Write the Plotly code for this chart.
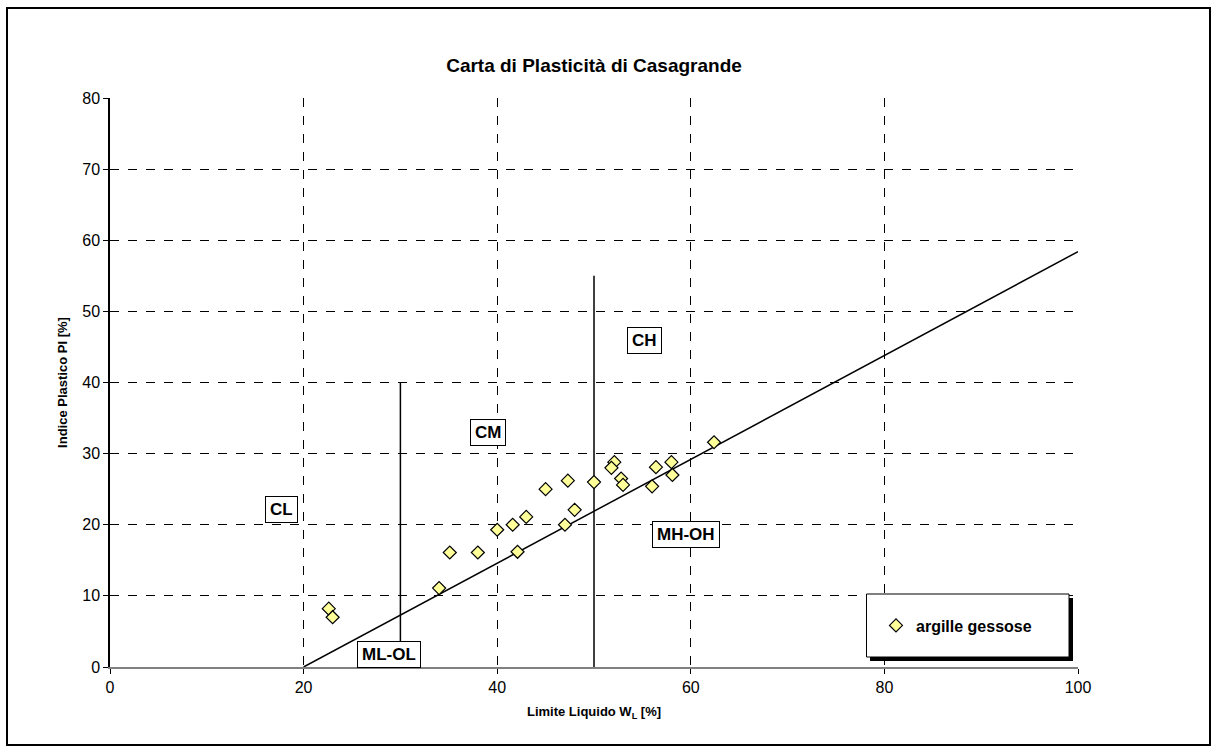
import plotly.graph_objects as go

# Campioni: limite liquido (LL) e indice plastico (PI), in %
ll_values = [22.6, 23.0, 34.0, 35.1, 38.0, 40.0, 41.6, 42.1, 43.0, 45.0, 47.3,
             47.0, 48.0, 50.0, 52.1, 51.8, 52.8, 53.0, 56.4, 56.0, 58.0, 58.1, 62.4]
pi_values = [8.2, 7.0, 11.1, 16.1, 16.1, 19.3, 20.0, 16.2, 21.1, 25.0, 26.2,
             20.0, 22.1, 26.0, 28.8, 28.0, 26.5, 25.6, 28.1, 25.4, 28.8, 27.0, 31.6]
series_name = "argille gessose"

# Linea A di Casagrande: PI = 0.73 (LL - 20)
aline_ll = [20, 100]
aline_pi = [0.73 * (v - 20) for v in aline_ll]

# Limiti verticali LL = 30 e LL = 50
div30_ll = [30, 30]
div30_pi = [0, 40]
div50_ll = [50, 50]
div50_pi = [0, 55]

# Etichette delle zone
zone_names = ["CL", "CM", "CH", "MH-OH", "ML-OL"]
zone_ll = [17.7, 39.0, 55.2, 59.5, 28.8]
zone_pi = [22.1, 33.0, 45.9, 18.7, 1.8]

x_ticks = [0, 20, 40, 60, 80, 100]
y_ticks = [0, 10, 20, 30, 40, 50, 60, 70, 80]

W, H = 1211, 751
ML, MR, MT, MB = 110, 133, 98, 84
PW, PH = W - ML - MR, H - MT - MB


def px(x):
    return (x - ML) / PW


def py(y):
    return (H - MB - y) / PH


FONT = "Arial, Liberation Sans, sans-serif"

fig = go.Figure()

line_style = dict(color="black", width=1.5)
fig.add_trace(go.Scatter(x=aline_ll, y=aline_pi, mode="lines", line=line_style,
                         showlegend=False, hoverinfo="skip", cliponaxis=False))
fig.add_trace(go.Scatter(x=div30_ll, y=div30_pi, mode="lines", line=line_style,
                         showlegend=False, hoverinfo="skip"))
fig.add_trace(go.Scatter(x=div50_ll, y=div50_pi, mode="lines", line=line_style,
                         showlegend=False, hoverinfo="skip"))
fig.add_trace(go.Scatter(
    x=ll_values, y=pi_values, mode="markers", name=series_name,
    marker=dict(symbol="diamond", size=10, color="#FFFF99",
                line=dict(color="black", width=1.2)),
    cliponaxis=False,
))

for name, xv, yv in zip(zone_names, zone_ll, zone_pi):
    fig.add_annotation(
        x=xv, y=yv, xref="x", yref="y", text="<b>%s</b>" % name,
        showarrow=False, font=dict(family=FONT, size=17, color="black"),
        bgcolor="white", bordercolor="black", borderwidth=1, borderpad=4,
        height=17,
    )

shapes = [
    # cornice esterna del grafico
    dict(type="rect", xref="paper", yref="paper",
         x0=px(7), x1=px(1210), y0=py(745), y1=py(8),
         line=dict(color="black", width=2), fillcolor="rgba(0,0,0,0)", layer="above"),
    # ombra e riquadro della legenda
    dict(type="rect", xref="paper", yref="paper",
         x0=px(870), x1=px(1073), y0=py(661), y1=py(598),
         line=dict(width=0), fillcolor="black", layer="above"),
    dict(type="rect", xref="paper", yref="paper",
         x0=px(866.5), x1=px(1069), y0=py(657), y1=py(594),
         line=dict(color="black", width=1), fillcolor="white", layer="above"),
]

fig.update_layout(
    width=W, height=H,
    margin=dict(l=ML, r=MR, t=MT, b=MB, pad=0),
    paper_bgcolor="white", plot_bgcolor="white",
    font=dict(family=FONT, color="black"),
    title=dict(text="<b>Carta di Plasticità di Casagrande</b>",
               x=0.5, xref="paper", xanchor="center",
               y=1 - 65 / H, yref="container", yanchor="middle",
               font=dict(family=FONT, size=19, color="black")),
    shapes=shapes,
    showlegend=True,
    legend=dict(x=px(876), y=py(625.5), xanchor="left", yanchor="middle",
                bgcolor="rgba(0,0,0,0)", borderwidth=0,
                font=dict(family=FONT, size=16, color="black", weight="bold")),
    xaxis=dict(
        range=[0, 100], tickvals=x_ticks, ticktext=[str(v) for v in x_ticks],
        showgrid=True, gridcolor="black", griddash="dash", gridwidth=1,
        zeroline=False, showline=True, linecolor="#808080", linewidth=2,
        ticks="outside", ticklen=5, tickcolor="black",
        tickfont=dict(family=FONT, size=16, color="black"),
        title=dict(text="<b>Limite Liquido W<sub>L</sub> [%]</b>",
                   font=dict(family=FONT, size=13, color="black"), standoff=12),
    ),
    yaxis=dict(
        range=[0, 80], tickvals=y_ticks, ticktext=[str(v) for v in y_ticks],
        showgrid=True, gridcolor="black", griddash="dash", gridwidth=1,
        zeroline=False, showline=True, linecolor="black", linewidth=1.5,
        ticks="outside", ticklen=5, tickcolor="black",
        tickfont=dict(family=FONT, size=16, color="black"),
        title=dict(text="<b>Indice Plastico PI [%]</b>",
                   font=dict(family=FONT, size=13, color="black"), standoff=12),
    ),
)

fig.write_html("out.html")
